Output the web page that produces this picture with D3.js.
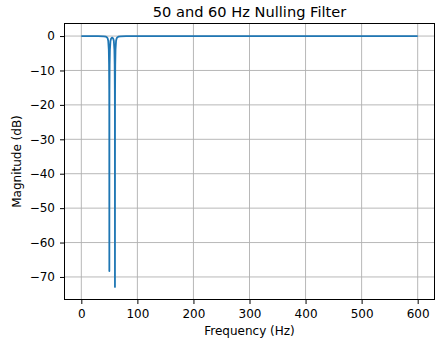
<!DOCTYPE html>
<html>
<head>
<meta charset="utf-8">
<script src="https://cdn.jsdelivr.net/npm/d3@7"></script>
<style>
  html, body { margin: 0; padding: 0; background: #fff; }
  svg { display: block; font-family: "DejaVu Sans", sans-serif; }
</style>
</head>
<body>
<svg id="chart" width="439" height="345"></svg>
<script>
// ---- data ----
const frequencies = [0, 20, 30, 40, 44, 46, 47, 48, 49, 49.5, 49.8, 49.9, 50, 50.1, 50.2, 50.5, 51, 52, 53, 54, 55,
  56, 57, 58, 59, 59.5, 59.8, 59.9, 60, 60.1, 60.2, 60.5, 61, 62, 63, 64, 66, 70, 80, 100, 200, 300, 400, 500, 600];
const magnitudes = [0, -0.01, -0.02, -0.08, -0.19, -0.40, -0.68, -1.38, -3.92, -8.36, -15.7, -21.7, -68.3, -21.7, -15.8, -8.37, -3.95, -1.44, -0.77, -0.54, -0.48,
  -0.54, -0.77, -1.44, -3.95, -8.37, -15.8, -21.7, -72.9, -21.7, -15.7, -8.36, -3.92, -1.38, -0.68, -0.40, -0.19, -0.08, -0.02, -0.01, 0, 0, 0, 0, 0];
const xTicks = [0, 100, 200, 300, 400, 500, 600];
const yTicks = [0, -10, -20, -30, -40, -50, -60, -70];
const titleText = "50 and 60 Hz Nulling Filter";
const xLabel = "Frequency (Hz)";
const yLabel = "Magnitude (dB)";

// ---- layout ----
const svg = d3.select("#chart");
const pLeft = 64.5, pRight = 434.5, pTop = 23.5, pBottom = 299.5;

const x = d3.scaleLinear().domain([-30, 630]).range([pLeft, pRight]);
const y = d3.scaleLinear().domain([-76.55, 3.65]).range([pBottom, pTop]);

// grid
const grid = svg.append("g");
grid.selectAll("line.vx").data(xTicks).join("line")
  .attr("x1", d => x(d)).attr("x2", d => x(d))
  .attr("y1", pTop).attr("y2", pBottom)
  .attr("stroke", "#b0b0b0").attr("stroke-width", 0.9);
grid.selectAll("line.hy").data(yTicks).join("line")
  .attr("x1", pLeft).attr("x2", pRight)
  .attr("y1", d => y(d)).attr("y2", d => y(d))
  .attr("stroke", "#b0b0b0").attr("stroke-width", 0.9);

// line
const line = d3.line().x((d, i) => x(frequencies[i])).y(d => y(d));
svg.append("path").datum(magnitudes)
  .attr("d", line)
  .attr("fill", "none")
  .attr("stroke", "#1f77b4")
  .attr("stroke-width", 1.8)
  .attr("stroke-linejoin", "round");

// frame
svg.append("rect")
  .attr("x", pLeft).attr("y", pTop)
  .attr("width", pRight - pLeft).attr("height", pBottom - pTop)
  .attr("fill", "none").attr("stroke", "#000").attr("stroke-width", 1);

// axes
const fmt = d3.format("");
const xAxis = svg.append("g").attr("transform", `translate(0,${pBottom})`)
  .call(d3.axisBottom(x).tickValues(xTicks).tickSize(4.5).tickPadding(5).tickFormat(fmt));
const yAxis = svg.append("g").attr("transform", `translate(${pLeft},0)`)
  .call(d3.axisLeft(y).tickValues(yTicks).tickSize(4.5).tickPadding(5).tickFormat(fmt));
[xAxis, yAxis].forEach(a => {
  a.select(".domain").remove();
  a.selectAll("line").attr("stroke", "#000").attr("stroke-width", 1);
  a.selectAll("text").attr("font-family", "DejaVu Sans").attr("font-size", 12).attr("fill", "#000");
});

// labels
svg.append("text").attr("x", (pLeft + pRight) / 2).attr("y", 17)
  .attr("text-anchor", "middle").attr("font-size", 14.6).attr("fill", "#000")
  .text(titleText);
svg.append("text").attr("x", (pLeft + pRight) / 2).attr("y", 335)
  .attr("text-anchor", "middle").attr("font-size", 12).attr("fill", "#000")
  .text(xLabel);
svg.append("text")
  .attr("transform", `translate(21,${(pTop + pBottom) / 2}) rotate(-90)`)
  .attr("text-anchor", "middle").attr("font-size", 12).attr("fill", "#000")
  .text(yLabel);
</script>
</body>
</html>
